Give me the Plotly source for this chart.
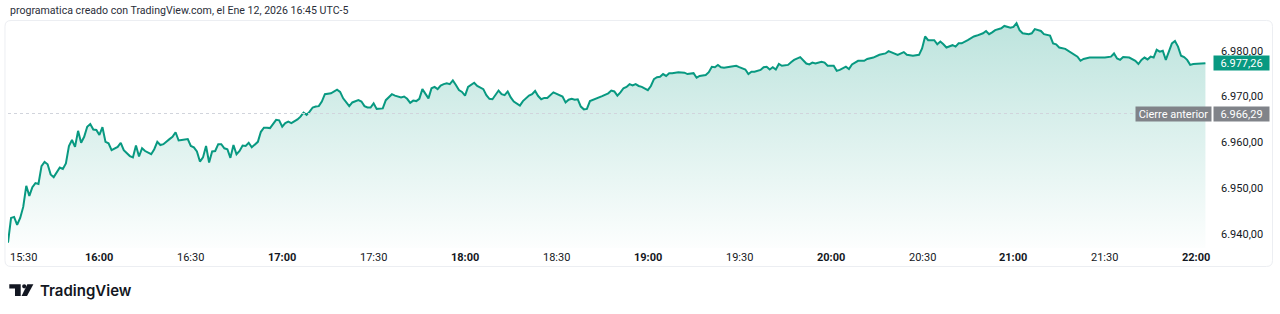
import pandas as pd
import plotly.graph_objects as go

# ---------------- data ----------------
session_start = "2026-01-12 15:30"
minutes = [0,1,2,3,4,5,6,7,8,9,10,11,12,13,14,15,17,18,19,20,21,22,23,24,25,26,27,28,29,30,31,32,33,34,36,37,38,40,41,42,43,44,45,47,48,49,50,51,53,54,55,56,57,59,60,61,62,63,64,65,66,67,68,69,70,71,72,73,74,75,76,77,78,79,80,81,82,83,84,85,86,88,89,90,91,92,93,95,96,97,98,99,100,101,102,103,104,106,107,108,109,110,112,113,115,116,117,118,119,120,121,123,124,126,127,129,130,131,132,133,134,135,136,137,138,139,140,141,142,143,144,145,146,147,148,149,150,151,153,154,156,157,158,159,160,161,162,163,164,165,166,168,169,171,172,173,174,175,176,177,179,180,182,183,184,185,186,187,188,189,190,191,193,194,195,197,198,199,200,201,202,203,204,205,206,207,208,210,211,212,213,214,215,216,217,218,220,222,223,225,226,227,229,230,231,232,233,234,235,237,239,240,242,243,244,245,247,248,249,250,251,252,253,254,256,257,258,260,261,262,263,264,265,267,268,269,271,272,273,275,276,277,279,281,282,284,286,288,289,291,292,294,295,297,299,300,301,302,304,305,306,307,308,310,311,312,313,315,317,318,320,321,322,323,324,326,327,329,330,331,332,333,335,336,337,339,340,342,343,344,345,347,348,350,351,352,353,355,357,358,360,362,363,364,365,366,368,370,371,372,373,374,375,376,377,378,379,380,381,382,383,384,385,386,387,388,389,391,393]
prices = [6938.1,6943.5,6943.7,6942.0,6943.5,6945.9,6950.5,6948.3,6950.2,6951.1,6950.9,6954.8,6955.7,6955.2,6953.0,6952.4,6954.5,6954.2,6955.4,6959.2,6960.5,6959.0,6962.5,6959.9,6961.2,6963.4,6964.0,6962.8,6962.7,6961.6,6963.3,6960.1,6959.8,6958.3,6959.0,6959.9,6958.3,6957.0,6956.7,6959.3,6956.9,6958.7,6958.1,6957.4,6958.5,6960.1,6959.4,6959.6,6960.7,6961.2,6962.2,6960.4,6960.5,6960.7,6959.2,6958.9,6958.0,6955.8,6956.7,6959.2,6955.6,6958.0,6958.1,6959.6,6959.6,6958.7,6958.5,6956.6,6959.4,6957.4,6958.1,6959.3,6959.2,6959.9,6958.9,6959.6,6960.1,6962.3,6963.2,6963.2,6963.1,6964.9,6964.8,6963.4,6964.2,6964.5,6964.2,6965.0,6965.6,6966.5,6966.0,6966.7,6967.6,6967.8,6967.9,6968.9,6970.5,6970.7,6971.2,6971.5,6971.0,6969.6,6967.9,6968.7,6969.2,6968.9,6967.9,6967.6,6967.6,6968.5,6967.3,6967.4,6969.2,6970.5,6970.2,6969.8,6970.0,6969.5,6968.6,6969.1,6969.0,6969.5,6971.6,6970.5,6969.6,6971.8,6972.1,6971.6,6972.4,6972.7,6972.9,6972.7,6973.5,6972.5,6971.4,6971.0,6970.2,6972.1,6973.0,6972.3,6971.6,6970.3,6969.5,6969.4,6970.3,6971.3,6970.5,6970.3,6971.1,6969.8,6968.9,6968.0,6969.0,6970.2,6970.5,6971.2,6970.1,6969.4,6969.7,6969.7,6970.9,6970.6,6970.0,6968.7,6969.3,6969.5,6969.3,6969.4,6967.8,6967.2,6967.3,6969.0,6969.5,6969.7,6970.1,6970.7,6971.3,6971.1,6970.2,6970.9,6971.8,6972.1,6972.7,6972.4,6972.7,6972.3,6972.1,6971.4,6972.3,6973.8,6974.2,6974.3,6974.9,6974.5,6975.1,6975.1,6975.3,6975.2,6974.9,6975.1,6974.1,6974.5,6974.7,6975.3,6976.5,6976.4,6976.9,6976.4,6976.3,6976.5,6976.7,6976.4,6975.9,6974.9,6975.4,6975.4,6975.8,6976.4,6976.5,6975.9,6976.4,6975.9,6977.1,6976.7,6976.9,6977.5,6978.0,6978.6,6977.8,6977.2,6977.0,6977.4,6977.2,6977.6,6977.4,6976.7,6976.7,6975.6,6975.8,6976.5,6976.0,6977.0,6977.8,6977.8,6978.2,6978.5,6979.1,6979.4,6979.9,6979.4,6979.1,6979.7,6979.1,6978.9,6979.1,6980.5,6983.1,6982.3,6982.3,6981.4,6982.0,6981.4,6980.7,6981.2,6980.9,6981.6,6981.6,6982.3,6983.1,6983.3,6983.8,6984.3,6983.6,6984.0,6984.5,6984.9,6985.4,6985.0,6985.2,6986.0,6984.5,6983.8,6983.6,6983.8,6984.7,6984.3,6983.6,6983.3,6981.6,6981.4,6980.7,6980.4,6980.0,6979.1,6978.7,6977.8,6978.2,6978.5,6978.5,6978.6,6978.5,6978.7,6979.4,6978.3,6978.0,6978.6,6978.5,6977.8,6977.1,6978.0,6978.5,6978.1,6978.7,6978.5,6980.2,6979.8,6980.0,6978.0,6979.8,6981.6,6982.1,6980.9,6978.9,6978.6,6978.0,6976.9,6977.1,6977.25,6977.26]
prev_close = 6966.29
last_price = prices[-1]
price_ticks = [6940, 6950, 6960, 6970, 6980]
time_ticks = ["15:30","16:00","16:30","17:00","17:30","18:00","18:30","19:00","19:30","20:00","20:30","21:00","21:30","22:00"]
title_text = "programatica creado con TradingView.com, el Ene 12, 2026 16:45 UTC-5"

# ---------------- layout helpers ----------------
W, H = 1280, 314
L, R, T, B = 8, 70, 20, 66
PW, PH = W - L - R, H - T - B
def px(x):
    return (x - L) / PW
def py(y):
    return (H - B - y) / PH

FONT = "Roboto"
TXT = "#131722"
GREEN = "#089981"
GRAY = "#808389"

t0 = pd.Timestamp(session_start)
times = [t0 + pd.Timedelta(minutes=m) for m in minutes]
tick_times = [pd.Timestamp("2026-01-12 " + s) for s in time_ticks]

def fmt_price(v):
    s = f"{v:,.2f}"
    return s.replace(",", "X").replace(".", ",").replace("X", ".")

fig = go.Figure()
fig.add_trace(go.Scatter(
    x=times, y=prices, mode="lines",
    line=dict(color=GREEN, width=2),
    fill="tozeroy",
    fillgradient=dict(type="vertical", start=6937, stop=6986.5,
                      colorscale=[[0, "rgba(8,153,129,0.01)"], [1, "rgba(8,153,129,0.27)"]]),
    hoverinfo="skip", showlegend=False,
))

annotations = []
# x tick labels (first shifted inside like TradingView)
for s, t in zip(time_ticks, tick_times):
    bold = s.endswith(":00")
    annotations.append(dict(
        x=t, xref="x", y=py(257), yref="paper",
        text=f"<b>{s}</b>" if bold else s, showarrow=False,
        xanchor="left" if t == tick_times[0] else "center", yanchor="middle",
        font=dict(family=FONT, size=11, color=TXT),
    ))
# title
annotations.append(dict(x=px(8), y=py(11), xref="paper", yref="paper", text=title_text,
                        showarrow=False, xanchor="left", yanchor="middle",
                        font=dict(family=FONT, size=10.6, color="#2a2e39")))
# last price label
annotations.append(dict(x=px(1213), xref="paper", y=last_price, yref="y", text=fmt_price(last_price),
                        showarrow=False, xanchor="left", yanchor="middle", width=55, height=14,
                        borderpad=0, bgcolor=GREEN, align="center",
                        font=dict(family=FONT, size=11, color="white")))
# previous close labels
annotations.append(dict(x=px(1213), xref="paper", y=prev_close, yref="y", text=fmt_price(prev_close),
                        showarrow=False, xanchor="left", yanchor="middle", width=55, height=14,
                        borderpad=0, bgcolor=GRAY, align="center",
                        font=dict(family=FONT, size=11, color="white")))
annotations.append(dict(x=px(1212), xref="paper", y=prev_close, yref="y", text="Cierre anterior",
                        showarrow=False, xanchor="right", yanchor="middle", width=75, height=14,
                        borderpad=0, bgcolor=GRAY, align="center",
                        font=dict(family=FONT, size=11, color="white")))
# logo wordmark
annotations.append(dict(x=px(38), y=py(290.5), xref="paper", yref="paper", text="TradingView",
                        showarrow=False, xanchor="left", yanchor="middle",
                        font=dict(family="Inter", size=15, color=TXT, weight=600)))

def path(points):
    return "M " + " L ".join(f"{px(a):.5f},{py(b):.5f}" for a, b in points) + " Z"

def rounded_rect(x0, y0, x1, y1, r):
    d = (f"M {px(x0+r):.5f},{py(y0):.5f} L {px(x1-r):.5f},{py(y0):.5f} "
         f"Q {px(x1):.5f},{py(y0):.5f} {px(x1):.5f},{py(y0+r):.5f} "
         f"L {px(x1):.5f},{py(y1-r):.5f} Q {px(x1):.5f},{py(y1):.5f} {px(x1-r):.5f},{py(y1):.5f} "
         f"L {px(x0+r):.5f},{py(y1):.5f} Q {px(x0):.5f},{py(y1):.5f} {px(x0):.5f},{py(y1-r):.5f} "
         f"L {px(x0):.5f},{py(y0+r):.5f} Q {px(x0):.5f},{py(y0):.5f} {px(x0+r):.5f},{py(y0):.5f} Z")
    return d

shapes = [
    # frame
    dict(type="path", xref="paper", yref="paper", path=rounded_rect(5, 20.5, 1272.5, 266.5, 6),
         line=dict(color="#eceef2", width=1), fillcolor="rgba(0,0,0,0)", layer="below"),
    # previous close dotted line
    dict(type="line", xref="paper", yref="y", x0=0, x1=1, y0=prev_close, y1=prev_close,
         line=dict(color="#d1d4dc", width=1, dash="dot")),
    # logo icon
    dict(type="path", xref="paper", yref="paper",
         path=path([(9.3, 284.3), (20.7, 284.3), (20.7, 296), (15, 296), (15, 288.4), (9.3, 288.4)]),
         fillcolor=TXT, line=dict(width=0)),
    dict(type="circle", xref="paper", yref="paper", x0=px(22.1), x1=px(26.3), y0=py(284.2), y1=py(288.4),
         fillcolor=TXT, line=dict(width=0)),
    dict(type="path", xref="paper", yref="paper",
         path=path([(27.3, 284.3), (33.4, 284.3), (27.0, 296), (21.6, 296)]),
         fillcolor=TXT, line=dict(width=0)),
]

fig.update_layout(
    width=W, height=H, margin=dict(l=L, r=R, t=T, b=B),
    paper_bgcolor="white", plot_bgcolor="white",
    separators=",.",
    showlegend=False,
    xaxis=dict(type="date", range=[t0, t0 + pd.Timedelta(minutes=394.5)],
               showgrid=False, zeroline=False, showline=False, showticklabels=False, ticks=""),
    yaxis=dict(side="right", range=[6936.93, 6986.70], tickvals=price_ticks, tickformat=",.2f",
               showgrid=False, zeroline=False, showline=False, ticks="",
               ticklabelstandoff=10,
               tickfont=dict(family=FONT, size=11, color=TXT)),
    annotations=annotations, shapes=shapes,
)

fig.write_html("out.html")
